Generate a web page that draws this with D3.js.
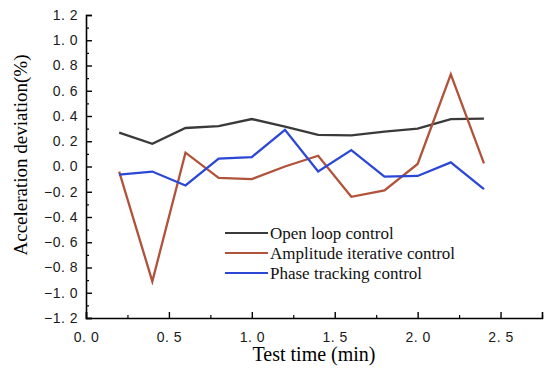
<!DOCTYPE html>
<html>
<head>
<meta charset="utf-8">
<script src="https://cdn.jsdelivr.net/npm/d3@7"></script>
<style>
  body { margin: 0; background: #fff; }
</style>
</head>
<body>
<svg id="chart" width="550" height="369"></svg>
<script>
// test time (min)
const times = [0.2, 0.4, 0.6, 0.8, 1.0, 1.2, 1.4, 1.6, 1.8, 2.0, 2.2, 2.4];

const openLoop   = [0.268, 0.18, 0.305, 0.32, 0.376, 0.315, 0.25, 0.247, 0.276, 0.30, 0.376, 0.38];
const amplitude  = [-0.04, -0.91, 0.11, -0.09, -0.10, 0.0, 0.085, -0.24, -0.19, 0.02, 0.73, 0.025];
const phase      = [-0.065, -0.04, -0.15, 0.062, 0.075, 0.29, -0.04, 0.13, -0.08, -0.075, 0.033, -0.18];

const seriesNames = ["Open loop control", "Amplitude iterative control", "Phase tracking control"];
const seriesColors = ["#3a3a3a", "#b0533a", "#2b47d6"];

const xTicks = [0, 0.5, 1.0, 1.5, 2.0, 2.5];
const yTicks = [-1.2, -1.0, -0.8, -0.6, -0.4, -0.2, 0.0, 0.2, 0.4, 0.6, 0.8, 1.0, 1.2];

var svg = d3.select("#chart");

var xScale = d3.scaleLinear().domain([0, 2.75]).range([86, 542]);
var yScale = d3.scaleLinear().domain([-1.2, 1.2]).range([318, 15]);

// minor ticks
var xMinor = d3.range(0.25, 2.76, 0.5);
var yMinor = d3.range(-1.1, 1.2, 0.2);

function styleTicks(g) {
  g.selectAll(".tick text")
    .style("font-family", "'Liberation Sans', Arial, sans-serif")
    .style("font-size", "14px")
    .style("letter-spacing", "0.5px")
    .attr("fill", "#1a1a1a");
}

var xAxis = svg.append("g")
  .attr("transform", "translate(0,318)")
  .call(d3.axisBottom(xScale).tickValues(xTicks).tickSize(-6).tickPadding(8)
    .tickFormat(d => d.toFixed(1).replace(".", ". ")));
xAxis.select(".domain").attr("stroke", "#000").attr("stroke-width", 1.6);
xAxis.selectAll(".tick line").attr("stroke-width", 1.4);
xAxis.call(styleTicks);
xAxis.selectAll(".tick text").attr("y", 23.5).attr("dy", null);

svg.append("g")
  .attr("transform", "translate(0,318)")
  .call(d3.axisBottom(xScale).tickValues(xMinor).tickSize(-3).tickFormat(""))
  .call(g => g.select(".domain").remove())
  .selectAll("line").attr("stroke-width", 1.2);

var yAxis = svg.append("g")
  .attr("transform", "translate(86,0)")
  .call(d3.axisLeft(yScale).tickValues(yTicks).tickSize(-6).tickPadding(8)
    .tickFormat(d => d3.format(".1f")(d).replace(".", ". ")));
yAxis.select(".domain").attr("stroke", "#000").attr("stroke-width", 1.6);
yAxis.selectAll(".tick line").attr("stroke-width", 1.4);
yAxis.call(styleTicks);

svg.append("g")
  .attr("transform", "translate(86,0)")
  .call(d3.axisLeft(yScale).tickValues(yMinor).tickSize(-3).tickFormat(""))
  .call(g => g.select(".domain").remove())
  .selectAll("line").attr("stroke-width", 1.2);

// lines
var line = d3.line()
  .x((d, i) => xScale(times[i]))
  .y(d => yScale(d));

[openLoop, amplitude, phase].forEach(function (vals, k) {
  svg.append("path")
    .datum(vals)
    .attr("fill", "none")
    .attr("stroke", seriesColors[k])
    .attr("stroke-width", 2.3)
    .attr("d", line);
});

// legend
var legend = svg.append("g").attr("transform", "translate(225,233)");
seriesNames.forEach(function (name, i) {
  var row = legend.append("g").attr("transform", `translate(0,${i * 20})`);
  row.append("line")
    .attr("x1", 0).attr("x2", 43)
    .attr("stroke", seriesColors[i]).attr("stroke-width", 2);
  row.append("text")
    .attr("x", 45).attr("y", 5.5)
    .style("font-family", "'Liberation Serif', 'Times New Roman', serif")
    .style("font-size", "17px")
    .style("fill", "#111")
    .text(name);
});

// axis titles
svg.append("text")
  .attr("x", 314).attr("y", 361)
  .attr("text-anchor", "middle")
  .style("font-family", "'Liberation Serif', 'Times New Roman', serif")
  .style("font-size", "20px")
  .text("Test time (min)");

svg.append("text")
  .attr("transform", "translate(27,155) rotate(-90)")
  .attr("text-anchor", "middle")
  .style("font-family", "'Liberation Serif', 'Times New Roman', serif")
  .style("font-size", "19px")
  .text("Acceleration deviation(%)");
</script>
</body>
</html>
